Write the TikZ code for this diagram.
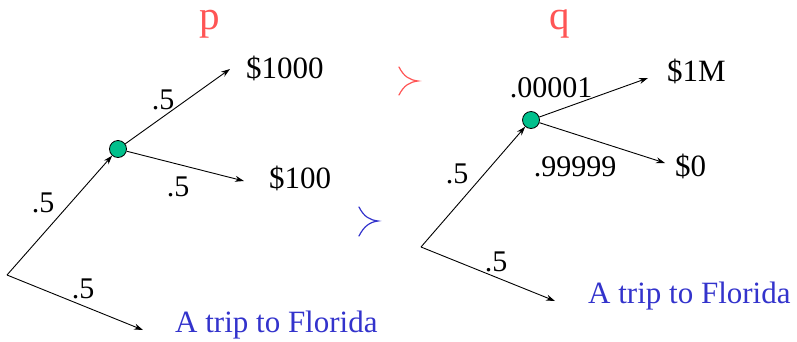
\documentclass[tikz,border=0pt]{standalone}
\usepackage{fontspec}
\setmainfont{Liberation Serif}
\usetikzlibrary{arrows.meta}
\definecolor{pred}{RGB}{255,85,85}
\definecolor{tblue}{RGB}{51,51,204}
\definecolor{chance}{RGB}{0,192,140}
\begin{document}
\begin{tikzpicture}[x=1pt,y=-1pt,
  arr/.style={draw=black,line width=0.9pt,-{Stealth[length=9pt,width=6pt]}},
  chnode/.style={circle,draw=black,line width=0.8pt,fill=chance,minimum size=17pt,inner sep=0pt},
  txt/.style={inner sep=0pt,anchor=base west,font=\fontsize{31}{36}\selectfont},
  lbl/.style={inner sep=0pt,anchor=base,font=\fontsize{30}{36}\selectfont},
  big/.style={inner sep=0pt,anchor=base,text=pred,text height=20pt,font=\fontsize{41}{48}\selectfont},
  relsym/.style={line width=1.2pt,line cap=round}]
\useasboundingbox (0,0) rectangle (797,341);
% left lottery
\node[big] (p) at (210,29) {p};
\coordinate (rootL) at (7,275);
\node[chnode] (circL) at (118,149) {};
\coordinate (e1) at (230,69);
\coordinate (e2) at (244,181);
\coordinate (e3) at (143,330);
\draw[arr] (rootL) -- (circL);
\draw[arr] (circL) -- (e1);
\draw[arr] (circL) -- (e2);
\draw[arr] (rootL) -- (e3);
\node[txt] (t1000) at (246,78) {\$1000};
\node[txt] (t100) at (269,188) {\$100};
\node[txt,text=tblue] (flL) at (175,332) {A trip to Florida};
\node[lbl] (l1) at (163,109) {.5};
\node[lbl] (l2) at (178,196) {.5};
\node[lbl] (l3) at (43,212) {.5};
\node[lbl] (l4) at (83,298) {.5};
% preference symbols (succ)
\draw[relsym,pred] (399,67) .. controls (404,77) and (410,80) .. (418,81)
                             .. controls (410,82) and (404,85) .. (399,95);
\draw[relsym,tblue] (359,207) .. controls (364,217) and (370,220) .. (378,221)
                             .. controls (370,222) and (364,226) .. (359,236);
% right lottery
\node[big] (q) at (560,29) {q};
\coordinate (rootR) at (421,247);
\node[chnode] (circR) at (531,120) {};
\coordinate (f1) at (648,78);
\coordinate (f2) at (665,163);
\coordinate (f3) at (555,301);
\draw[arr] (rootR) -- (circR);
\draw[arr] (circR) -- (f1);
\draw[arr] (circR) -- (f2);
\draw[arr] (rootR) -- (f3);
\node[txt] (t1M) at (667,81) {\$1M};
\node[txt] (t0) at (675,176) {\$0};
\node[txt,text=tblue] (flR) at (588,303) {A trip to Florida};
\node[lbl] (r1) at (551,97) {.00001};
\node[lbl] (r2) at (575,176) {.99999};
\node[lbl] (r3) at (457,183) {.5};
\node[lbl] (r4) at (496,271) {.5};
\end{tikzpicture}
\end{document}
